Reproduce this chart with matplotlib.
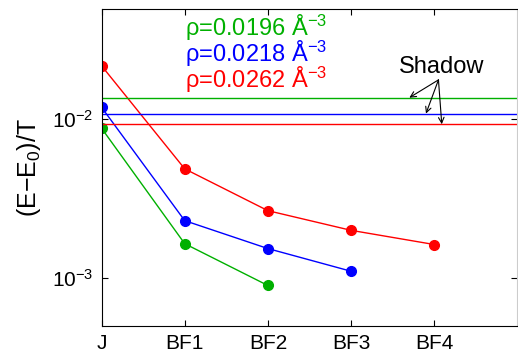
import matplotlib.pyplot as plt

plt.rcParams['font.family'] = ['Liberation Sans', 'DejaVu Sans']
plt.rcParams['mathtext.fontset'] = 'custom'
plt.rcParams['mathtext.rm'] = 'Liberation Sans'
plt.rcParams['mathtext.it'] = 'Liberation Sans'

# Data
categories = ["J", "BF1", "BF2", "BF3", "BF4"]
rho_labels = ["ρ=0.0196 Å$^{-3}$", "ρ=0.0218 Å$^{-3}$", "ρ=0.0262 Å$^{-3}$"]
colors = ["#00b000", "#0000ff", "#ff0000"]
green_vals = [0.00874, 0.00164, 0.000895]
blue_vals = [0.01184, 0.00229, 0.001528, 0.00110]
red_vals = [0.0216, 0.00485, 0.002646, 0.00199, 0.00162]
shadow_vals = [0.0136, 0.0108, 0.00926]

series = [green_vals, blue_vals, red_vals]

fig = plt.figure(figsize=(5.18, 3.54), dpi=100)
ax = fig.add_axes([0.196, 0.080, 0.803, 0.894])

for vals, c in zip(series, colors):
    ax.plot(range(len(vals)), vals, "-o", color=c, lw=1, ms=7)

for v, c in zip(shadow_vals, colors):
    ax.axhline(v, color=c, lw=1)

ax.set_yscale("log")
ax.set_ylim(5e-4, 4.9e-2)
ax.set_xlim(0, 5)
ax.set_xticks(range(len(categories)))
ax.set_xticklabels(categories)
ax.set_yticks([1e-3, 1e-2])
ax.minorticks_off()
ax.tick_params(direction="in", top=True, right=True, labelsize=15, length=4, pad=6)
ax.set_ylabel("(E$-$E$_0$)/T", fontsize=18, labelpad=6)

ax.spines["right"].set_color("#cccccc")

# legend-like labels (stacked tightly, as in the original)
text_y = [0.0335, 0.0230, 0.0156]
for lab, c, y in zip(rho_labels, colors, text_y):
    ax.text(1.0, y, lab, color=c, fontsize=17, va="baseline")

# Shadow annotation
ax.text(4.09, 0.0194, "Shadow", fontsize=17, ha="center", va="baseline")
src = (4.05, 0.0176)
for x, v in zip([3.70, 3.90, 4.09], shadow_vals):
    ax.annotate("", xy=(x, v), xytext=src,
                arrowprops=dict(arrowstyle="->", color="black", lw=0.8,
                                shrinkA=0, shrinkB=0))

plt.savefig("out.png", dpi=100)
